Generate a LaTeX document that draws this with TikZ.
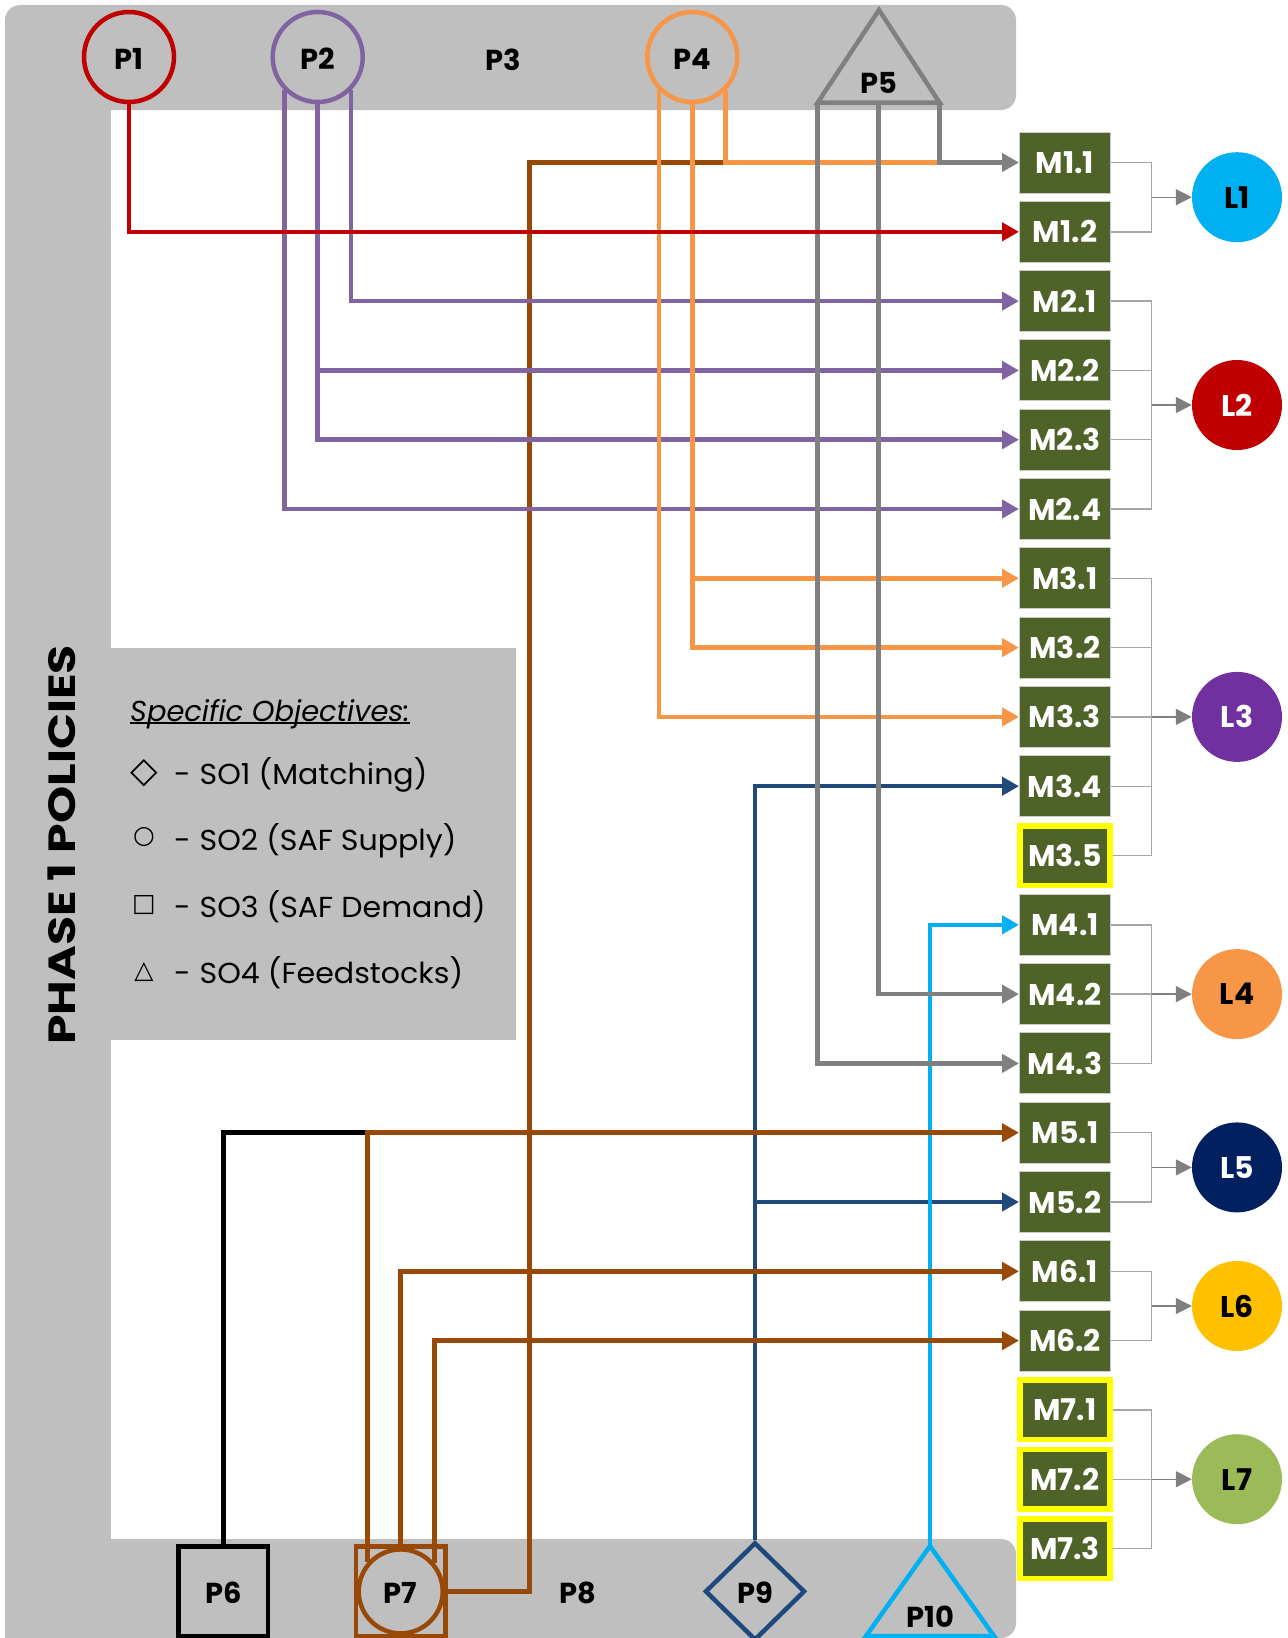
\documentclass[tikz,border=0pt]{standalone}
\usepackage{fontspec}
\setmainfont{Poppins}
\newfontfamily\symfont{DejaVu Sans}
\usetikzlibrary{arrows.meta,shapes.geometric,calc}
\definecolor{bandgray}{HTML}{BFBFBF}
\definecolor{boxgreen}{HTML}{4F6228}
\definecolor{redc}{HTML}{C00000}
\definecolor{purplec}{HTML}{8064A2}
\definecolor{orangec}{HTML}{F79646}
\definecolor{grayc}{HTML}{808080}
\definecolor{brownc}{HTML}{984807}
\definecolor{bluec}{HTML}{1F497D}
\definecolor{cyanc}{HTML}{00B0F0}
\definecolor{yellowc}{HTML}{FFFF00}
\definecolor{lthree}{HTML}{7030A0}
\definecolor{lfive}{HTML}{002060}
\definecolor{lsix}{HTML}{FFC000}
\definecolor{lseven}{HTML}{9BBB59}
\definecolor{bracketgray}{HTML}{A6A6A6}
\definecolor{arrowgray}{HTML}{7F7F7F}
\newcommand\fsz[1]{\fontsize{#1}{#1}\selectfont}
\begin{document}
\begin{tikzpicture}[x=1bp,y=-1bp,
  ptext/.style={inner sep=0pt, font=\bfseries\fsz{29}, text=black},
  pnode/.style={draw, line width=4.5bp, inner sep=0pt, font=\bfseries\fsz{29}, text=black, text height=25bp, text depth=0bp},
  pcirc/.style={pnode, circle, minimum size=90bp},
  psq/.style={pnode, rectangle, minimum size=89.5bp},
  mbox/.style={rectangle, fill=boxgreen, draw=gray!40, line width=1bp, minimum width=91bp, minimum height=61bp, inner sep=0pt, text=white, font=\bfseries\fsz{30}},
  ybox/.style={mbox, draw=yellowc, line width=5.5bp, minimum width=90bp, minimum height=59.5bp},
  lnode/.style={circle, minimum size=90bp, inner sep=0pt, font=\bfseries\fsz{30}},
  conn/.style={line width=4.5bp},
  arr/.style={conn, -{Triangle[length=17bp,width=18bp]}},
  brk/.style={draw=bracketgray, line width=1.4bp},
  brkarr/.style={draw=arrowgray, line width=1.4bp, -{Triangle[length=16bp,width=16bp]}},
  legtext/.style={inner sep=0pt, anchor=base west, font=\fsz{29}\addfontfeatures{FakeStretch=1.04}},
  legsym/.style={inner sep=0pt, font=\symfont\fsz{25}}
]
\useasboundingbox (0,0) rectangle (1287,1638);
% gray frame
\fill[bandgray, rounded corners=15bp] (5,5) rectangle (1016,110);
\fill[bandgray] (5,60) rectangle (111,1638);
\fill[bandgray, rounded corners=15bp] (60,1539) rectangle (1016,1638);
\fill[bandgray] (100,648) rectangle (516,1040);

% title
\node[rotate=90, inner sep=0pt, font=\bfseries\fsz{38}\addfontfeatures{FakeStretch=1.25}] (title) at (61.7,845) {PHASE 1 POLICIES};

% legend
\node[inner sep=0pt, anchor=base west, font=\itshape\fsz{29}] (legt) at (130,721) {Specific Objectives:};
\draw[line width=1.5bp] ([yshift=-2bp]legt.base west) -- ([yshift=-2bp]legt.base east);
\node[legsym, font=\symfont\fsz{36}] (s1) at (144,773) {◇};
\node[legsym] (s2) at (144,837) {○};
\node[legsym] (s3) at (144,905) {□};
\node[legsym] (s4) at (144,972) {△};
\node[legtext] (t1) at (174,784) {-\hspace{9bp}SO1 (Matching)};
\node[legtext] (t2) at (174,850.5) {-\hspace{9bp}SO2 (SAF Supply)};
\node[legtext] (t3) at (174,917) {-\hspace{9bp}SO3 (SAF Demand)};
\node[legtext] (t4) at (174,983.5) {-\hspace{9bp}SO4 (Feedstocks)};

% top policies
\node[pcirc, draw=redc] (p1) at (129,57) {P1};
\node[pcirc, draw=purplec] (p2) at (317.7,57) {P2};
\node[ptext] (p3) at (503.5,60) {P3};
\node[pcirc, draw=orangec] (p4) at (692.3,57) {P4};
\coordinate (p5top) at (879,10);
\coordinate (p5l) at (817.6,102.7);
\coordinate (p5r) at (939.6,102.7);
\coordinate (p5m) at (878.5,102.7);
\draw[grayc, line width=4.5bp] (p5top) -- (p5r) -- (p5l) -- cycle;
\node[ptext] (p5) at (879,83) {P5};

% bottom policies
\node[psq, draw=black] (p6) at (223.4,1591.4) {P6};
\node[psq, draw=brownc] (p7s) at (400.7,1591.4) {};
\node[pcirc, draw=brownc, minimum size=84bp] (p7) at (400.7,1591.4) {P7};
\node[ptext] (p8) at (578,1593) {P8};
\node[pnode, diamond, draw=bluec, minimum width=100bp, minimum height=98bp] (p9) at (755,1591.4) {P9};
\coordinate (p10top) at (930,1546);
\coordinate (p10l) at (866,1636);
\coordinate (p10r) at (994,1636);
\draw[cyanc, line width=4.5bp] (p10top) -- (p10r) -- (p10l) -- cycle;
\node[ptext] (p10) at (930,1617) {P10};

% measures
\node[mbox] (m11) at (1065,162.5) {M1.1};
\node[mbox] (m12) at (1065,231.8) {M1.2};
\node[mbox] (m21) at (1065,301.1) {M2.1};
\node[mbox] (m22) at (1065,370.4) {M2.2};
\node[mbox] (m23) at (1065,439.7) {M2.3};
\node[mbox] (m24) at (1065,509.0) {M2.4};
\node[mbox] (m31) at (1065,578.3) {M3.1};
\node[mbox] (m32) at (1065,647.6) {M3.2};
\node[mbox] (m33) at (1065,716.9) {M3.3};
\node[mbox] (m34) at (1065,786.2) {M3.4};
\node[ybox] (m35) at (1065,855.5) {M3.5};
\node[mbox] (m41) at (1065,924.8) {M4.1};
\node[mbox] (m42) at (1065,994.1) {M4.2};
\node[mbox] (m43) at (1065,1063.4) {M4.3};
\node[mbox] (m51) at (1065,1132.7) {M5.1};
\node[mbox] (m52) at (1065,1202.0) {M5.2};
\node[mbox] (m61) at (1065,1271.3) {M6.1};
\node[mbox] (m62) at (1065,1340.6) {M6.2};
\node[ybox] (m71) at (1065,1409.9) {M7.1};
\node[ybox] (m72) at (1065,1479.2) {M7.2};
\node[ybox] (m73) at (1065,1548.5) {M7.3};

% levels
\node[lnode, fill=cyanc, text=black] (l1) at (1237,197.2) {L1};
\node[lnode, fill=redc, text=white] (l2) at (1237,405) {L2};
\node[lnode, fill=lthree, text=white] (l3) at (1237,716.9) {L3};
\node[lnode, fill=orangec, text=black] (l4) at (1237,994.1) {L4};
\node[lnode, fill=lfive, text=white] (l5) at (1237,1167.4) {L5};
\node[lnode, fill=lsix, text=black] (l6) at (1237,1306) {L6};
\node[lnode, fill=lseven, text=black] (l7) at (1237,1479.2) {L7};

% brackets
\coordinate (bx) at (1151.7,0);
\draw[brk] (m11.east) -- (bx |- m11.east) -- (bx |- m12.east) -- (m12.east);
\draw[brkarr] (bx |- l1.west) -- (l1.west);
\draw[brk] (m21.east) -- (bx |- m21.east) -- (bx |- m24.east) -- (m24.east);
\draw[brk] (m22.east) -- (bx |- m22.east);
\draw[brk] (m23.east) -- (bx |- m23.east);
\draw[brkarr] (bx |- l2.west) -- (l2.west);
\draw[brk] (m31.east) -- (bx |- m31.east) -- (bx |- m35.east) -- (m35.east);
\draw[brk] (m32.east) -- (bx |- m32.east);
\draw[brk] (m33.east) -- (bx |- m33.east);
\draw[brk] (m34.east) -- (bx |- m34.east);
\draw[brkarr] (bx |- l3.west) -- (l3.west);
\draw[brk] (m41.east) -- (bx |- m41.east) -- (bx |- m43.east) -- (m43.east);
\draw[brk] (m42.east) -- (bx |- m42.east);
\draw[brkarr] (bx |- l4.west) -- (l4.west);
\draw[brk] (m51.east) -- (bx |- m51.east) -- (bx |- m52.east) -- (m52.east);
\draw[brkarr] (bx |- l5.west) -- (l5.west);
\draw[brk] (m61.east) -- (bx |- m61.east) -- (bx |- m62.east) -- (m62.east);
\draw[brkarr] (bx |- l6.west) -- (l6.west);
\draw[brk] (m71.east) -- (bx |- m71.east) -- (bx |- m73.east) -- (m73.east);
\draw[brk] (m72.east) -- (bx |- m72.east);
\draw[brkarr] (bx |- l7.west) -- (l7.west);

% connectors
\coordinate (bv) at (529.6,0);
\draw[arr, bluec] (p9.north) |- (m34.west);
\draw[arr, bluec] (p9.north |- m52.west) -- (m52.west);
\draw[arr, cyanc] (p10top) |- (m41.west);
\draw[conn, brownc] (p7.east) -| (bv |- m11.west) -- (p4.-45 |- m11.west);
\draw[conn, black] (p6.north) |- (p7.139.5 |- m51.west);
\draw[arr, brownc] (p7.139.5) |- (m51.west);
\draw[arr, brownc] (p7.north) |- (m61.west);
\draw[arr, brownc] (p7.40.5) |- (m62.west);
\draw[arr, purplec] (p2.-45) |- (m21.west);
\draw[arr, purplec] (p2.south) |- (m22.west);
\draw[arr, purplec] (p2.south) |- (m23.west);
\draw[arr, purplec] (p2.225) |- (m24.west);
\draw[conn, orangec] (p4.-45) |- (p5r |- m11.west);
\draw[arr, orangec] (p4.south) |- (m31.west);
\draw[arr, orangec] (p4.south) |- (m32.west);
\draw[arr, orangec] (p4.225) |- (m33.west);
\draw[arr, grayc] (p5r) |- (m11.west);
\draw[arr, grayc] (p5m) |- (m42.west);
\draw[arr, grayc] (p5l) |- (m43.west);
\draw[arr, redc] (p1.south) |- (m12.west);
\end{tikzpicture}
\end{document}
